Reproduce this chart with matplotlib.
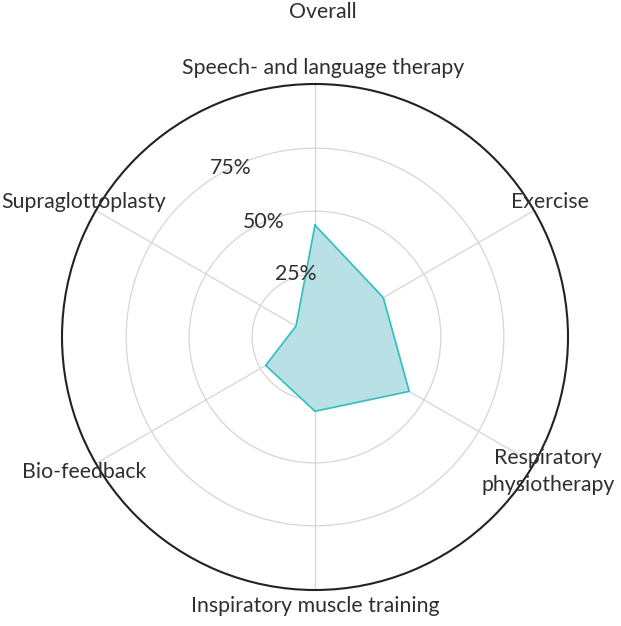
import numpy as np
import matplotlib
matplotlib.use("Agg")
import matplotlib.pyplot as plt
from matplotlib.transforms import offset_copy

categories = ["Speech- and language therapy", "Exercise", "Respiratory\nphysiotherapy",
              "Inspiratory muscle training", "Bio-feedback", "Supraglottoplasty"]
values = [44.4, 31.3, 43.2, 29.5, 22.6, 8.7]
rticks = [25, 50, 75]
rtick_labels = ["25%", "50%", "75%"]
title = "Overall"

plt.rcParams['font.family'] = ['Lato', 'DejaVu Sans']
text_color = "#2f2f2f"
fs = 15.3

fig = plt.figure(figsize=(6.21, 6.26), dpi=100)
ax = fig.add_axes([62/621, 36/626, 506/621, 506/626], projection='polar')
ax.set_theta_zero_location('N')
ax.set_theta_direction(-1)

n = len(categories)
angles = np.arange(n) * 2 * np.pi / n
ang_c = np.concatenate([angles, angles[:1]])
val_c = np.concatenate([values, values[:1]])

ax.fill(ang_c, val_c, color="#b9e1e5", zorder=2)
ax.plot(ang_c, val_c, color="#2fc0c4", lw=1.2, zorder=3)

ax.set_ylim(0, 100.5)
ax.set_yticks(rticks)
ax.set_yticklabels([])
ax.set_xticks(angles)
ax.set_xticklabels([])
ax.grid(color="#d6d6d6", lw=0.9)
ax.spines['polar'].set_color("#222222")
ax.spines['polar'].set_linewidth(1.5)

# category labels (small horizontal pixel nudges)
nudges = [8, 2, 0, 0, 2, 2]
for a, lab, dx in zip(angles, categories, nudges):
    tr = offset_copy(ax.transData, fig=fig, x=dx, y=0, units='dots')
    ax.text(a, 107, lab, ha='center', va='center', fontsize=fs, color=text_color,
            linespacing=1.4, transform=tr)

# radial tick labels
lab_angles = np.deg2rad([-16.8, -23.9, -26.4])
lab_r = [26.1, 50.0, 74.9]
for a, r, t in zip(lab_angles, lab_r, rtick_labels):
    ax.text(a, r, t, ha='center', va='center', fontsize=fs, color=text_color)

fig.text(323/621, 1 - 12/626, title, ha='center', va='center', fontsize=fs, color=text_color)

fig.savefig("out.png", dpi=100, facecolor='white')
